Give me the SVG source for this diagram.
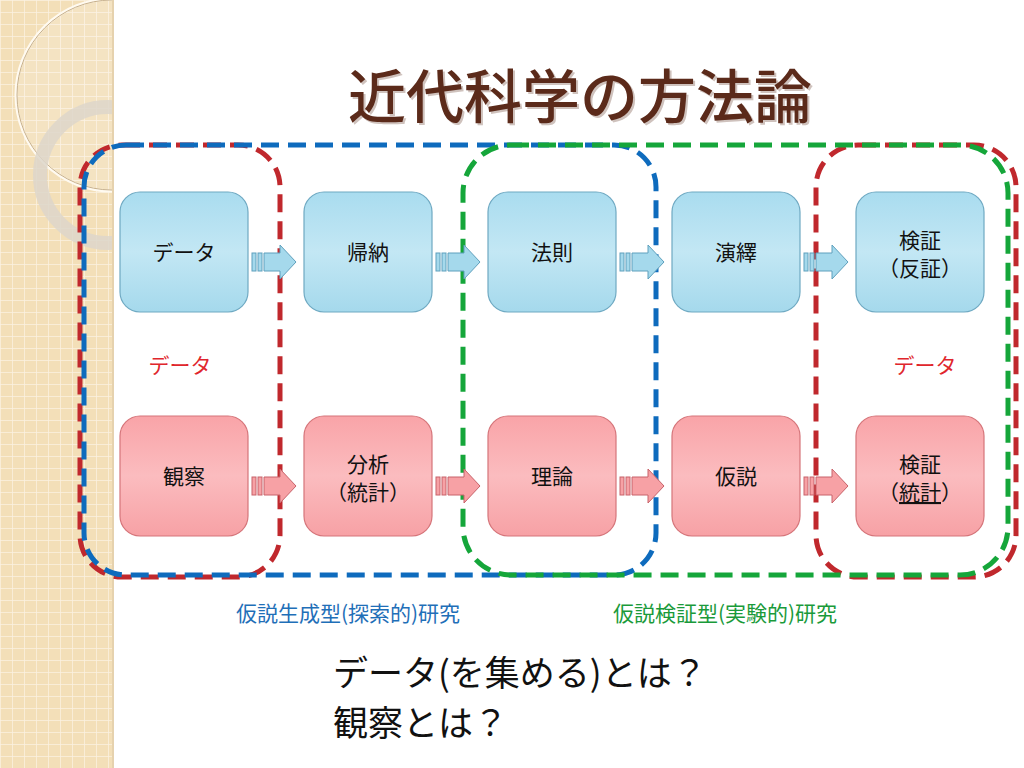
<svg xmlns="http://www.w3.org/2000/svg" width="1024" height="768" viewBox="0 0 1024 768">
<defs>
<pattern id="grid" width="12" height="12" patternUnits="userSpaceOnUse"><rect width="12" height="12" fill="#f3dfb8"/><path d="M0 0H12M0 0V12" stroke="#fbf2e2" stroke-width="1.5"/></pattern>
<clipPath id="sc"><rect width="113" height="768"/></clipPath>
<linearGradient id="gb" x1="0" y1="0" x2="0" y2="1"><stop offset="0" stop-color="#a9dcef"/><stop offset="0.5" stop-color="#c3e7f4"/><stop offset="1" stop-color="#a5d9ec"/></linearGradient>
<linearGradient id="gr" x1="0" y1="0" x2="0" y2="1"><stop offset="0" stop-color="#f9a4a8"/><stop offset="0.5" stop-color="#fbbcbf"/><stop offset="1" stop-color="#f7a1a5"/></linearGradient>
<g id="arrB"><rect x="0" y="-9" width="4" height="18"/><rect x="6" y="-9" width="4" height="18"/><path d="M12 -9H28V-17L44 0L28 17V9H12Z"/></g>
</defs>
<style>
.nb{fill:url(#gb);stroke:#6fa9c2;stroke-width:1.2}
.nr{fill:url(#gr);stroke:#d5757a;stroke-width:1.2}
.t{font-family:"Noto Sans CJK JP","Noto Sans",sans-serif;font-size:21px;fill:#111;text-anchor:middle}
.ab{fill:#a5d9ec;stroke:#5fa0bd;stroke-width:1}
.ar{fill:#f7a1a5;stroke:#c8636a;stroke-width:1}
.d{fill:none;stroke-width:5;stroke-dasharray:18 9}
</style>
<rect width="1024" height="768" fill="#fff"/>
<g id="strip">
<rect width="113" height="768" fill="url(#grid)"/>
<g clip-path="url(#sc)">
<circle cx="112" cy="95" r="96" fill="#fff" fill-opacity="0.15" stroke="#fffaf0" stroke-width="3"/>
<circle cx="112" cy="95" r="95" fill="none" stroke="#c7b08c" stroke-width="1"/>
<circle cx="108" cy="175" r="68" fill="none" stroke="#ddd6ca" stroke-width="14" opacity="0.85"/>
</g>
<line x1="113" y1="0" x2="113" y2="768" stroke="#e6d2ae" stroke-width="2"/>
</g>
<text x="582" y="120" font-family="Noto Sans CJK JP,sans-serif" font-size="58" font-weight="500" fill="#cfc2bd" text-anchor="middle">近代科学の方法論</text>
<text x="580" y="118" font-family="Noto Sans CJK JP,sans-serif" font-size="58" font-weight="500" fill="#5b2a1a" text-anchor="middle">近代科学の方法論</text>
<g id="boxes">
<rect class="d" x="80" y="145" width="200" height="432" rx="42" stroke="#c0282d"/>
<rect class="d" x="816" y="145" width="200" height="432" rx="42" stroke="#c0282d"/>
<rect class="d" x="84" y="145" width="572" height="430" rx="42" stroke="#0e6bbd"/>
<rect class="d" x="463" y="145" width="545" height="430" rx="48" stroke="#15a63a"/>
</g>
<g id="connectors">
<use href="#arrB" x="252" y="262" class="ab"/><use href="#arrB" x="436" y="262" class="ab"/><use href="#arrB" x="620" y="262" class="ab"/><use href="#arrB" x="804" y="262" class="ab"/>
<use href="#arrB" x="252" y="486" class="ar"/><use href="#arrB" x="436" y="486" class="ar"/><use href="#arrB" x="620" y="486" class="ar"/><use href="#arrB" x="804" y="486" class="ar"/>
</g>
<g id="n1"><rect class="nb" x="120" y="192" width="128" height="120" rx="20"/><text class="t" x="184" y="260">データ</text></g>
<g id="n2"><rect class="nb" x="304" y="192" width="128" height="120" rx="20"/><text class="t" x="368" y="260">帰納</text></g>
<g id="n3"><rect class="nb" x="488" y="192" width="128" height="120" rx="20"/><text class="t" x="552" y="260">法則</text></g>
<g id="n4"><rect class="nb" x="672" y="192" width="128" height="120" rx="20"/><text class="t" x="736" y="260">演繹</text></g>
<g id="n5"><rect class="nb" x="856" y="192" width="128" height="120" rx="20"/><text class="t" x="920" y="248">検証</text><text class="t" x="920" y="276" font-size="19">（反証）</text></g>
<g id="n6"><rect class="nr" x="120" y="416" width="128" height="120" rx="20"/><text class="t" x="184" y="484">観察</text></g>
<g id="n7"><rect class="nr" x="304" y="416" width="128" height="120" rx="20"/><text class="t" x="368" y="472">分析</text><text class="t" x="368" y="500" font-size="19">（統計）</text></g>
<g id="n8"><rect class="nr" x="488" y="416" width="128" height="120" rx="20"/><text class="t" x="552" y="484">理論</text></g>
<g id="n9"><rect class="nr" x="672" y="416" width="128" height="120" rx="20"/><text class="t" x="736" y="484">仮説</text></g>
<g id="n10"><rect class="nr" x="856" y="416" width="128" height="120" rx="20"/><text class="t" x="920" y="472">検証</text><text class="t" x="920" y="500" font-size="19">（<tspan text-decoration="underline">統計</tspan>）</text></g>
<g font-family="Noto Sans CJK JP,serif">
<text x="180" y="373" font-size="21" fill="#e0262c" text-anchor="middle">データ</text>
<text x="925" y="373" font-size="21" fill="#e0262c" text-anchor="middle">データ</text>
<text x="348" y="621" font-size="21" fill="#1f6fb8" text-anchor="middle">仮説生成型(探索的)研究</text>
<text x="725" y="621" font-size="21" fill="#1a9a3a" text-anchor="middle">仮説検証型(実験的)研究</text>
<text x="333" y="686" font-size="35" fill="#111">データ(を集める)とは？</text>
<text x="333" y="736" font-size="35" fill="#111">観察とは？</text>
</g>
</svg>
